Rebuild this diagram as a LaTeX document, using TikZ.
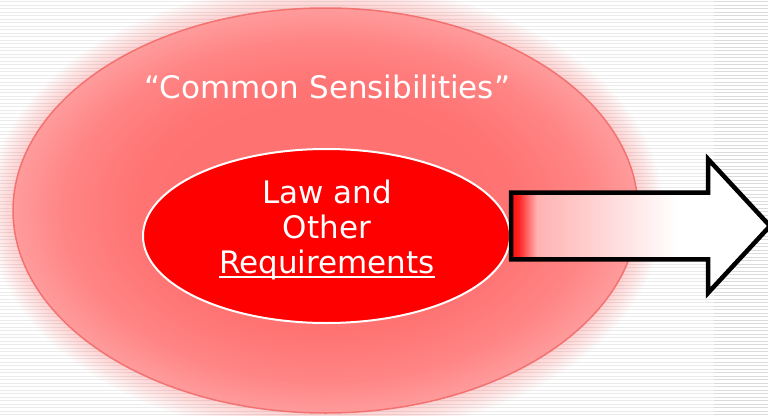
\documentclass[tikz,border=0pt]{standalone}
\usepackage{fontspec}
\setmainfont{DejaVu Sans}
\usetikzlibrary{shapes.geometric}
\definecolor{stripecol}{rgb}{0.86,0.86,0.86}
\definecolor{halocol}{rgb}{1,0.5,0.5}
\definecolor{edgecol}{rgb}{0.95,0.42,0.42}
\pgfdeclareradialshading{outershade}{\pgfpoint{0bp}{0bp}}{rgb(0bp)=(1,0.44,0.44); rgb(15bp)=(1,0.45,0.45); rgb(21bp)=(1,0.52,0.52); rgb(25bp)=(1,0.61,0.61); rgb(50bp)=(1,0.61,0.61)}
\pgfdeclarehorizontalshading{arrowshade}{100bp}{rgb(0bp)=(1,0,0); rgb(25bp)=(1,0.03,0.03); rgb(26.6bp)=(1,0.15,0.15); rgb(30bp)=(1,0.70,0.70); rgb(42bp)=(1,0.83,0.83); rgb(57bp)=(1,1,1); rgb(100bp)=(1,1,1)}
\newcommand\myul[1]{\setbox0\hbox{#1}\rlap{\rule[-4.5pt]{\wd0}{1.6pt}}\box0}
\begin{document}
\begin{tikzpicture}[x=1pt,y=-1pt,
  stripe/.style={fill=stripecol},
  halo/.style={fill=halocol, fill opacity=0.04},
  outerell/.style={ellipse, minimum width=625pt, minimum height=405pt, inner sep=0pt, shading=outershade, draw=edgecol, draw opacity=0.9, line width=1.5pt},
  innerell/.style={ellipse, minimum width=367pt, minimum height=174pt, inner sep=0pt, fill=red, draw=white, line width=2pt},
  lbl/.style={text=white, font=\fontsize{31}{35}\selectfont, inner sep=0pt, anchor=base},
  bigarrow/.style={shading=arrowshade, draw=black, line width=4.5pt, line join=miter}]
\useasboundingbox (0,0) rectangle (768,415);
\fill[white] (0,0) rectangle (768,415);
\foreach \i in {0,...,118} \fill[stripe] (0,\i*3.5+1) rectangle (768,\i*3.5+2.2);
\fill[white, fill opacity=0.45] (0,0) rectangle (714,415);
\foreach \k in {1,...,10}
  \fill[halo] (325.5,210.5) ellipse [x radius={312pt+2.5pt*\k}, y radius={202pt+2.5pt*\k}];
\node[outerell] (outer) at (325.5,210.5) {};
\node[lbl] (common) at (327.5,98) {“Common Sensibilities”};
\node[innerell] (inner) at (326.5,236) {};
\node[lbl] (law) at (327,203.5) {Law and};
\node[lbl] (other) at (327,238.5) {Other};
\node[lbl] (req) at (327,273) {\myul{Requirements}};
\coordinate (tip) at (770,226);
\path[bigarrow] (inner.east |- 0,192.7) -- (708,192.7) -- (708,159) -- (tip) -- (708,293) -- (708,259.3) -- (inner.east |- 0,259.3) -- cycle;
\end{tikzpicture}
\end{document}
